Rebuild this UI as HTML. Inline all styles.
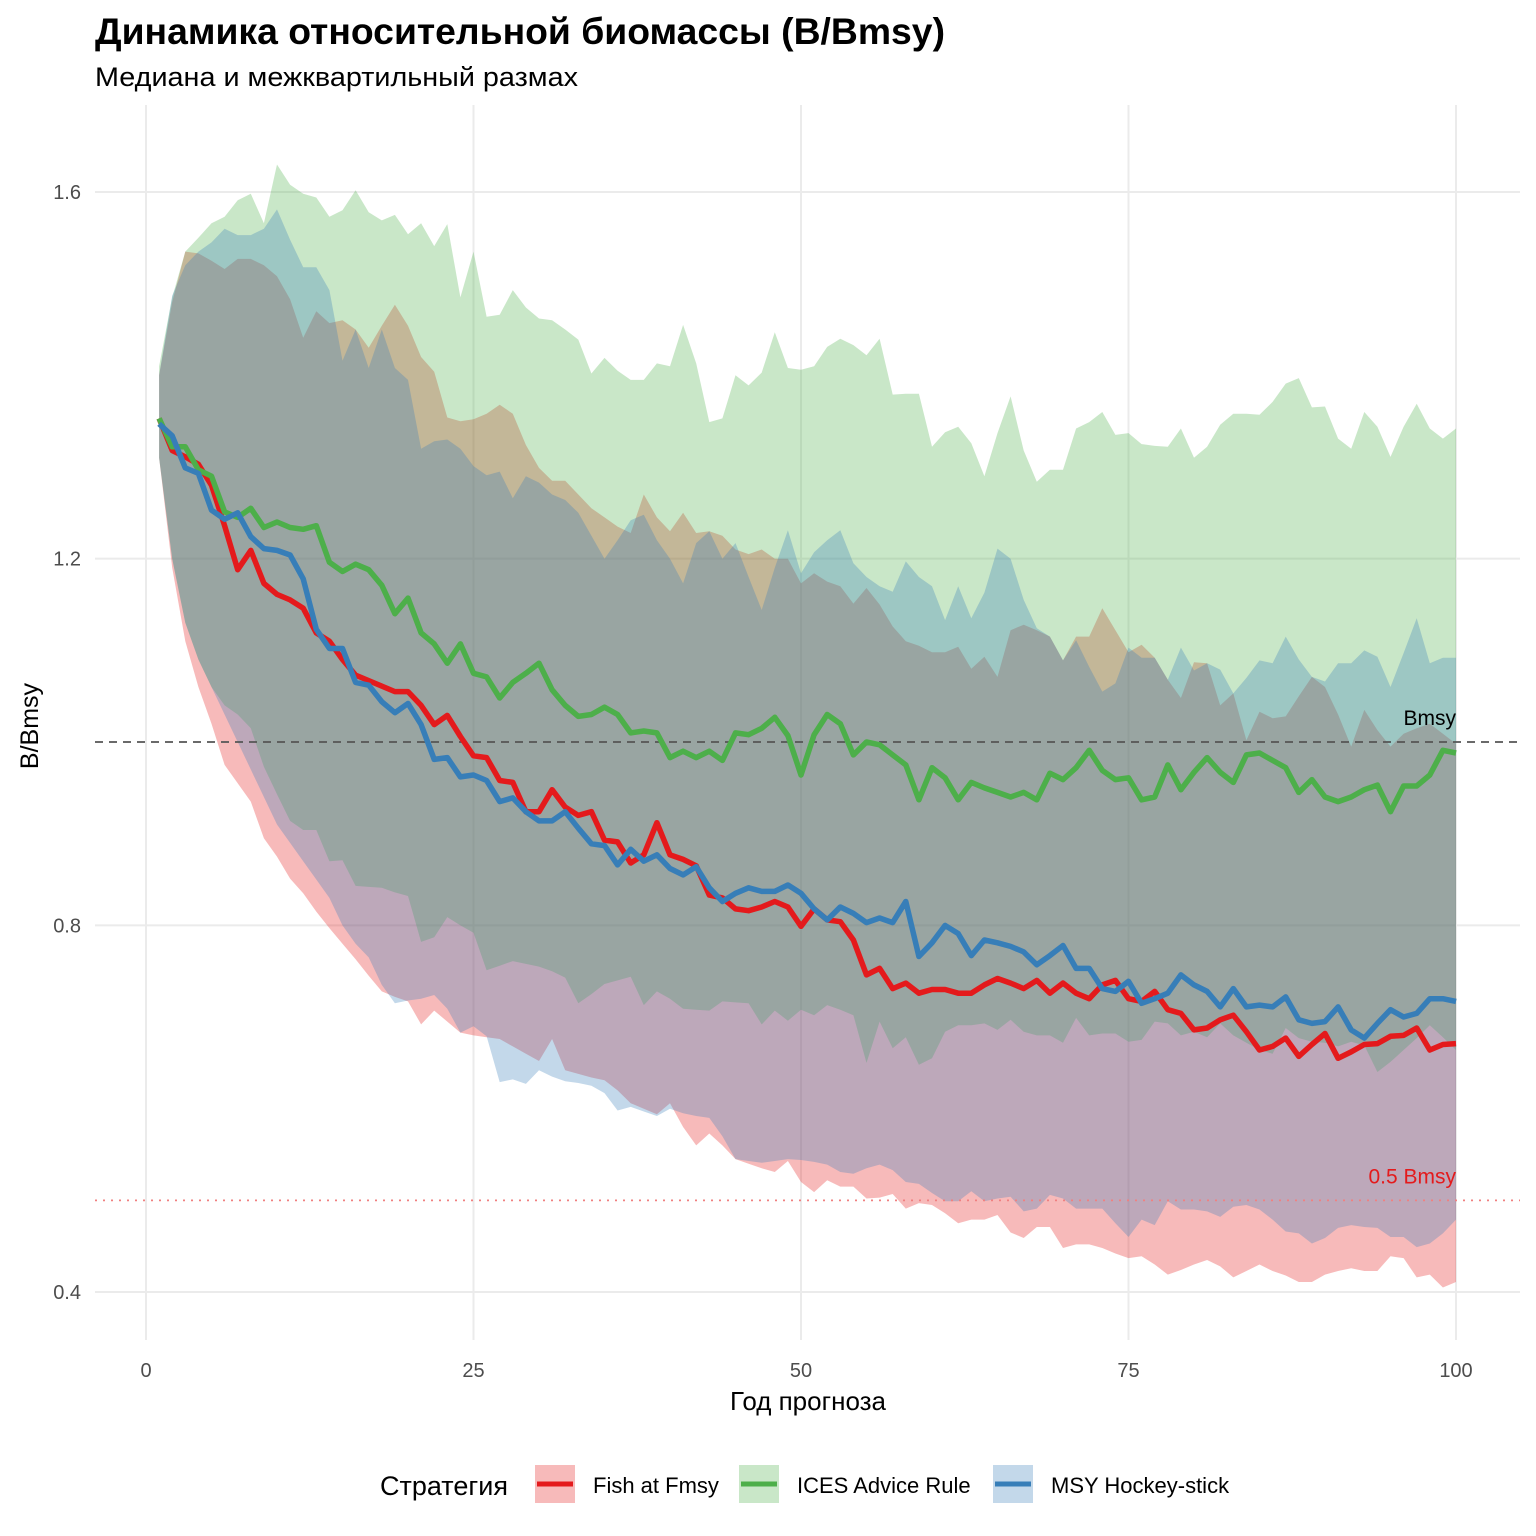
<!DOCTYPE html>
<html><head><meta charset="utf-8"><style>
body{margin:0;background:#fff;}
svg{display:block;font-family:"Liberation Sans","DejaVu Sans",sans-serif;}
</style></head><body>
<svg id="chart" width="1536" height="1536" viewBox="0 0 1536 1536" xmlns="http://www.w3.org/2000/svg">
<rect width="1536" height="1536" fill="#fff"/>
<text x="95" y="44" font-size="37" font-weight="bold" fill="#000" textLength="850" lengthAdjust="spacingAndGlyphs">Динамика относительной биомассы (B/Bmsy)</text>
<text x="95" y="86" font-size="27" fill="#000" textLength="483" lengthAdjust="spacingAndGlyphs">Медиана и межквартильный размах</text>
<g id="grid"></g>
<g id="ribbons"></g>
<g id="refs"></g>
<g id="lines"></g>
<g id="axes"></g>
<text transform="translate(38,726) rotate(-90)" text-anchor="middle" font-size="25" fill="#000">B/Bmsy</text>
<text x="808" y="1410" text-anchor="middle" font-size="26" fill="#000">Год прогноза</text>
<g>
<text x="380" y="1495" font-size="27" fill="#000">Стратегия</text>
<g>
<rect x="535" y="1465" width="40" height="38" fill="#E41A1C" fill-opacity="0.3"/>
<line x1="537" y1="1484" x2="573" y2="1484" stroke="#E41A1C" stroke-width="5"/>
<text x="593" y="1493" font-size="22" fill="#000">Fish at Fmsy</text></g>
<g>
<rect x="739" y="1465" width="40" height="38" fill="#4DAF4A" fill-opacity="0.3"/>
<line x1="741" y1="1484" x2="777" y2="1484" stroke="#4DAF4A" stroke-width="5"/>
<text x="797" y="1493" font-size="22" fill="#000">ICES Advice Rule</text></g>
<g>
<rect x="993" y="1465" width="40" height="38" fill="#377EB8" fill-opacity="0.3"/>
<line x1="995" y1="1484" x2="1031" y2="1484" stroke="#377EB8" stroke-width="5"/>
<text x="1051" y="1493" font-size="22" fill="#000">MSY Hockey-stick</text></g>
</g>
</svg>
<script>
const xTicks=[0,25,50,75,100];
const yTicks=[0.4,0.8,1.2,1.6];
const yTickLabels=["0.4","0.8","1.2","1.6"];
const redMed=[1.353,1.318,1.311,1.303,1.28,1.236,1.188,1.209,1.173,1.161,1.155,1.146,1.119,1.11,1.09,1.073,1.067,1.061,1.055,1.055,1.04,1.019,1.029,1.006,0.985,0.983,0.958,0.956,0.924,0.924,0.948,0.929,0.92,0.924,0.893,0.891,0.868,0.877,0.912,0.877,0.872,0.865,0.833,0.83,0.818,0.816,0.82,0.826,0.82,0.799,0.818,0.806,0.804,0.784,0.746,0.753,0.731,0.737,0.726,0.73,0.73,0.726,0.726,0.735,0.742,0.737,0.731,0.74,0.726,0.737,0.726,0.72,0.735,0.74,0.72,0.717,0.728,0.708,0.704,0.686,0.688,0.697,0.702,0.684,0.664,0.668,0.677,0.657,0.67,0.682,0.655,0.662,0.67,0.671,0.679,0.68,0.688,0.664,0.67,0.671];
const blueMed=[1.347,1.334,1.299,1.293,1.253,1.243,1.25,1.224,1.211,1.209,1.204,1.178,1.123,1.102,1.102,1.065,1.062,1.044,1.032,1.042,1.019,0.981,0.983,0.962,0.964,0.958,0.935,0.939,0.924,0.914,0.914,0.924,0.906,0.889,0.887,0.866,0.883,0.87,0.877,0.862,0.855,0.864,0.841,0.826,0.835,0.841,0.837,0.837,0.844,0.835,0.818,0.806,0.82,0.813,0.803,0.808,0.803,0.826,0.766,0.781,0.8,0.791,0.767,0.784,0.781,0.777,0.771,0.757,0.767,0.778,0.753,0.753,0.731,0.728,0.739,0.715,0.72,0.726,0.746,0.735,0.728,0.711,0.731,0.711,0.713,0.711,0.722,0.697,0.693,0.695,0.711,0.686,0.677,0.693,0.708,0.7,0.704,0.72,0.72,0.717];
const greenMed=[1.353,1.322,1.322,1.297,1.29,1.251,1.245,1.255,1.234,1.24,1.234,1.232,1.236,1.196,1.186,1.194,1.188,1.171,1.14,1.157,1.119,1.107,1.086,1.107,1.075,1.071,1.048,1.065,1.075,1.086,1.057,1.04,1.028,1.03,1.038,1.03,1.01,1.012,1.01,0.983,0.99,0.983,0.99,0.98,1.01,1.008,1.015,1.027,1.007,0.964,1.008,1.03,1.02,0.986,1.0,0.997,0.986,0.975,0.937,0.972,0.961,0.937,0.956,0.95,0.945,0.94,0.945,0.937,0.966,0.959,0.972,0.991,0.969,0.959,0.961,0.937,0.94,0.975,0.948,0.967,0.983,0.967,0.956,0.986,0.988,0.98,0.972,0.945,0.959,0.94,0.935,0.94,0.948,0.953,0.924,0.952,0.952,0.964,0.991,0.988];
const redUp=[1.40,1.48,1.535,1.533,1.525,1.516,1.527,1.527,1.52,1.508,1.483,1.441,1.47,1.457,1.46,1.45,1.43,1.454,1.477,1.454,1.42,1.404,1.354,1.35,1.352,1.358,1.368,1.358,1.324,1.299,1.285,1.285,1.27,1.255,1.245,1.235,1.228,1.27,1.245,1.23,1.25,1.228,1.23,1.225,1.21,1.205,1.21,1.2,1.2,1.173,1.184,1.175,1.17,1.151,1.168,1.15,1.126,1.11,1.105,1.098,1.098,1.104,1.08,1.093,1.071,1.122,1.128,1.122,1.115,1.089,1.115,1.115,1.146,1.122,1.098,1.106,1.092,1.068,1.048,1.087,1.086,1.04,1.053,1.002,1.033,1.026,1.028,1.05,1.071,1.06,1.03,0.995,1.035,1.013,0.995,1.009,1.015,1.02,1.009,0.998];
const redLow=[1.31,1.19,1.11,1.06,1.02,0.975,0.955,0.935,0.895,0.875,0.851,0.835,0.815,0.797,0.78,0.763,0.745,0.728,0.722,0.717,0.692,0.707,0.695,0.683,0.68,0.678,0.676,0.668,0.66,0.652,0.676,0.642,0.638,0.634,0.631,0.62,0.606,0.6,0.594,0.606,0.58,0.56,0.573,0.56,0.545,0.54,0.535,0.531,0.543,0.52,0.509,0.522,0.515,0.515,0.502,0.503,0.507,0.491,0.497,0.495,0.486,0.475,0.479,0.479,0.484,0.465,0.459,0.471,0.471,0.448,0.452,0.452,0.448,0.442,0.437,0.439,0.43,0.419,0.424,0.43,0.435,0.428,0.416,0.423,0.43,0.423,0.418,0.411,0.411,0.419,0.423,0.426,0.423,0.423,0.439,0.437,0.416,0.419,0.405,0.411];
const greenUp=[1.41,1.485,1.535,1.55,1.566,1.573,1.591,1.598,1.566,1.63,1.608,1.598,1.594,1.573,1.58,1.602,1.578,1.569,1.575,1.554,1.566,1.541,1.565,1.485,1.535,1.464,1.466,1.493,1.474,1.462,1.46,1.45,1.439,1.402,1.419,1.405,1.395,1.395,1.413,1.41,1.455,1.413,1.349,1.353,1.4,1.389,1.403,1.447,1.408,1.406,1.41,1.431,1.44,1.433,1.422,1.44,1.379,1.38,1.38,1.322,1.338,1.344,1.326,1.29,1.337,1.377,1.318,1.284,1.297,1.297,1.342,1.349,1.36,1.335,1.337,1.325,1.323,1.322,1.342,1.31,1.322,1.346,1.358,1.358,1.357,1.371,1.391,1.397,1.365,1.366,1.331,1.32,1.36,1.344,1.311,1.344,1.369,1.342,1.331,1.342];
const greenLow=[1.31,1.2,1.13,1.09,1.06,1.04,1.03,1.015,0.973,0.943,0.914,0.904,0.904,0.87,0.871,0.843,0.842,0.841,0.836,0.832,0.782,0.787,0.809,0.8,0.792,0.751,0.756,0.761,0.758,0.755,0.75,0.743,0.715,0.725,0.736,0.74,0.744,0.713,0.728,0.72,0.709,0.708,0.707,0.717,0.716,0.715,0.692,0.707,0.696,0.708,0.702,0.713,0.708,0.702,0.65,0.695,0.666,0.678,0.648,0.655,0.684,0.691,0.691,0.693,0.686,0.697,0.684,0.68,0.68,0.672,0.699,0.68,0.682,0.682,0.673,0.675,0.695,0.693,0.68,0.684,0.678,0.693,0.68,0.672,0.664,0.66,0.688,0.677,0.673,0.672,0.668,0.673,0.669,0.64,0.651,0.664,0.677,0.691,0.678,0.664];
const blueUp=[1.40,1.487,1.52,1.535,1.545,1.56,1.553,1.553,1.56,1.581,1.548,1.518,1.518,1.493,1.416,1.45,1.408,1.45,1.408,1.395,1.32,1.328,1.33,1.32,1.301,1.291,1.295,1.266,1.29,1.283,1.27,1.264,1.25,1.225,1.2,1.22,1.242,1.248,1.22,1.2,1.173,1.217,1.23,1.2,1.217,1.18,1.144,1.19,1.231,1.184,1.207,1.22,1.231,1.195,1.18,1.17,1.164,1.197,1.18,1.17,1.133,1.17,1.135,1.163,1.211,1.2,1.155,1.124,1.115,1.089,1.111,1.082,1.055,1.064,1.103,1.092,1.092,1.068,1.103,1.078,1.086,1.079,1.053,1.07,1.089,1.086,1.115,1.09,1.071,1.066,1.086,1.086,1.1,1.093,1.06,1.097,1.135,1.086,1.092,1.092];
const blueLow=[1.31,1.2,1.13,1.09,1.06,1.03,1.0,0.97,0.94,0.91,0.89,0.87,0.85,0.83,0.8,0.78,0.765,0.735,0.715,0.718,0.72,0.724,0.709,0.683,0.69,0.679,0.629,0.632,0.627,0.642,0.635,0.63,0.628,0.625,0.617,0.598,0.602,0.597,0.592,0.6,0.595,0.592,0.59,0.57,0.545,0.543,0.541,0.543,0.545,0.544,0.542,0.539,0.531,0.529,0.535,0.539,0.533,0.52,0.518,0.508,0.499,0.499,0.51,0.499,0.502,0.504,0.488,0.491,0.506,0.502,0.491,0.491,0.491,0.475,0.46,0.479,0.473,0.499,0.49,0.49,0.488,0.482,0.493,0.495,0.49,0.479,0.466,0.464,0.453,0.459,0.47,0.473,0.471,0.47,0.46,0.46,0.449,0.453,0.464,0.479];
const bmsyLevel=1.0;
const halfBmsyLevel=0.5;

const NS="http://www.w3.org/2000/svg";
function xS(yr){return 146+yr*13.1;}
function yS(v){return 192+(1.6-v)*916.7;}
function mk(tag,attrs,parent){const e=document.createElementNS(NS,tag);for(const k in attrs)e.setAttribute(k,attrs[k]);parent.appendChild(e);return e;}
const grid=document.getElementById('grid'),rib=document.getElementById('ribbons'),refs=document.getElementById('refs'),lines=document.getElementById('lines'),axes=document.getElementById('axes');
xTicks.forEach(t=>{
  const l=mk('line',{x1:xS(t),x2:xS(t),y1:105,y2:1340,stroke:'#ebebeb','stroke-width':2},grid);
  
  
  const tx=mk('text',{x:xS(t),y:1377,'text-anchor':'middle','font-size':20,fill:'#4d4d4d'},axes);
  tx.textContent=t;
  
  
});
yTicks.forEach((t,i)=>{
  const l=mk('line',{x1:95,x2:1520,y1:yS(t),y2:yS(t),stroke:'#ebebeb','stroke-width':2},grid);
  
  
  const tx=mk('text',{x:81,y:yS(t)+7,'text-anchor':'end','font-size':20,fill:'#4d4d4d'},axes);
  tx.textContent=yTickLabels[i];
  
  
});
function ribbon(up,low,color){
  let d='';
  up.forEach((v,i)=>{d+=(i?'L':'M')+xS(i+1).toFixed(1)+','+yS(v).toFixed(1);});
  for(let i=low.length-1;i>=0;i--)d+='L'+xS(i+1).toFixed(1)+','+yS(low[i]).toFixed(1);
  return mk('path',{d:d+'Z',fill:color,'fill-opacity':0.3},rib);
}
const r1=ribbon(redUp,redLow,'#E41A1C');


const r2=ribbon(greenUp,greenLow,'#4DAF4A');


const r3=ribbon(blueUp,blueLow,'#377EB8');


const bl=mk('line',{x1:95,x2:1520,y1:yS(bmsyLevel),y2:yS(bmsyLevel),stroke:'#555','stroke-width':1.8,'stroke-dasharray':'8,6'},refs);


const hl=mk('line',{x1:95,x2:1520,y1:yS(halfBmsyLevel),y2:yS(halfBmsyLevel),stroke:'#F08080','stroke-width':1.8,'stroke-dasharray':'2,6'},refs);


const bt=mk('text',{x:1456,y:yS(bmsyLevel)-17,'text-anchor':'end','font-size':21,fill:'#000'},refs);
bt.textContent='Bmsy';


const ht=mk('text',{x:1456,y:yS(halfBmsyLevel)-17,'text-anchor':'end','font-size':21,fill:'#E41A1C'},refs);
ht.textContent='0.5 Bmsy';


function line(arr,color){
  const pts=arr.map((v,i)=>xS(i+1).toFixed(1)+','+yS(v).toFixed(1)).join(' ');
  return mk('polyline',{points:pts,fill:'none',stroke:color,'stroke-width':5.5,'stroke-linejoin':'round'},lines);
}
const lr=line(redMed,'#E41A1C');


const lg=line(greenMed,'#4DAF4A');


const lb=line(blueMed,'#377EB8');


</script>
</body></html>
